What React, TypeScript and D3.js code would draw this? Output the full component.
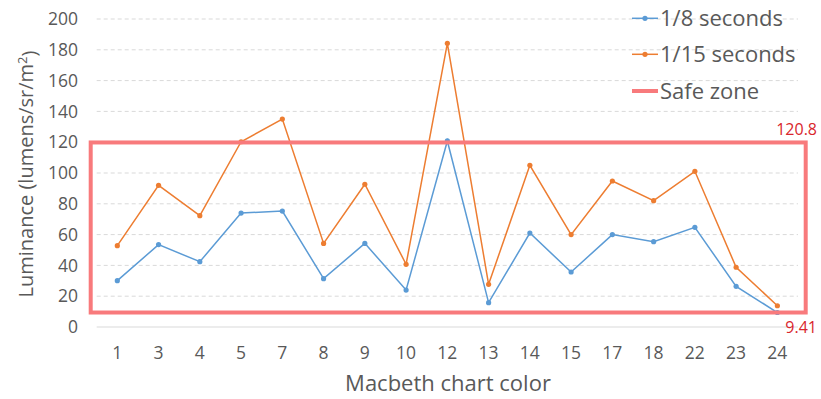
import React from "react";
import * as d3 from "d3";

const categories = ["1", "3", "4", "5", "7", "8", "9", "10", "12", "13", "14", "15", "17", "18", "22", "23", "24"];
const series8 = [30.1, 53.5, 42.4, 74, 75.3, 31.4, 54.3, 24, 120.8, 15.8, 61, 35.7, 60, 55.4, 64.7, 26.4, 9.41];
const series15 = [52.8, 92, 72.3, 120.3, 135, 54.3, 92.7, 40.7, 184.2, 27.7, 105, 60, 94.8, 82, 101.1, 38.8, 13.8];
const yTicks = [0, 20, 40, 60, 80, 100, 120, 140, 160, 180, 200];
const safeZone = [9.41, 120.8];
const legendLabels = ["1/8 seconds", "1/15 seconds", "Safe zone"];

const W = 821, H = 399;
const FONT = "'Open Sans', 'Noto Sans', sans-serif";
const BLUE = "#5b9bd5";
const ORANGE = "#ed7d31";
const RED = "#f87a7c";
const TXT = "#595959";

export default function App() {
  const x = d3.scaleBand().domain(categories).range([96.7, 798]);
  const y = d3.scaleLinear().domain([0, 200]).range([327, 19]);
  const cx = (c: string) => (x(c) as number) + x.bandwidth() / 2;
  const line = d3.line<number>().x((_, i) => cx(categories[i])).y((d) => y(d));

  const szLeft = 90.7, szRight = 805.7;
  const szTop = y(safeZone[1]) + 1.5;
  const szBot = y(safeZone[0]);

  return (
    <div style={{ position: "absolute", left: 0, top: 0 }}>
      <svg width={W} height={H} style={{ display: "block", background: "#fff" }}>
        {yTicks.filter((t) => t > 0).map((t) => (
          <line key={t} x1={96.7} x2={798} y1={y(t)} y2={y(t)} stroke="#d9d9d9" strokeWidth={1} strokeDasharray="4,3" />
        ))}
        <line x1={96.7} x2={798} y1={y(0)} y2={y(0)} stroke="#d9d9d9" strokeWidth={1} />
        {yTicks.map((t) => (
          <text key={t} x={78} y={y(t)} dy="0.35em" textAnchor="end" fontFamily={FONT} fontSize={17.5} fill={TXT}>{t}</text>
        ))}
        {categories.map((c) => (
          <text key={c} x={cx(c)} y={353} dy="0.35em" textAnchor="middle" fontFamily={FONT} fontSize={17.5} fill={TXT}>{c}</text>
        ))}
        <text x={448} y={383} dy="0.35em" textAnchor="middle" fontFamily={FONT} fontSize={22} fill={TXT}>Macbeth chart color</text>
        <text transform={`translate(26,174) rotate(-90)`} dy="0.35em" textAnchor="middle" fontFamily={FONT} fontSize={20} fill={TXT}>
          Luminance (lumens/sr/m<tspan dy="-0.45em" fontSize={13}>2</tspan><tspan dy="0.45em">)</tspan>
        </text>
        <path d={line(series8) || ""} fill="none" stroke={BLUE} strokeWidth={1.5} />
        <path d={line(series15) || ""} fill="none" stroke={ORANGE} strokeWidth={1.5} />
        {series8.map((v, i) => (
          <circle key={"b" + i} cx={cx(categories[i])} cy={y(v)} r={2.6} fill={BLUE} />
        ))}
        {series15.map((v, i) => (
          <circle key={"o" + i} cx={cx(categories[i])} cy={y(v)} r={2.6} fill={ORANGE} />
        ))}
        <rect x={szLeft} y={szTop} width={szRight - szLeft} height={szBot - szTop} fill="none" stroke={RED} strokeWidth={4} />
        <text x={817} y={135} textAnchor="end" fontFamily={FONT} fontSize={16} fill="#d9262c">{String(safeZone[1])}</text>
        <text x={817} y={333} textAnchor="end" fontFamily={FONT} fontSize={16} fill="#d9262c">{String(safeZone[0])}</text>
        {legendLabels.map((l, i) => {
          const ly = [18.3, 54.3, 91][i];
          return (
            <g key={l}>
              {i < 2 ? (
                <>
                  <line x1={632} x2={658} y1={ly} y2={ly} stroke={i === 0 ? BLUE : ORANGE} strokeWidth={1.5} />
                  <circle cx={645} cy={ly} r={2.6} fill={i === 0 ? BLUE : ORANGE} />
                </>
              ) : (
                <line x1={632} x2={658} y1={ly} y2={ly} stroke={RED} strokeWidth={4} />
              )}
              <text x={660} y={ly} dy="0.35em" fontFamily={FONT} fontSize={22} fill={TXT}>{l}</text>
            </g>
          );
        })}
      </svg>
    </div>
  );
}
